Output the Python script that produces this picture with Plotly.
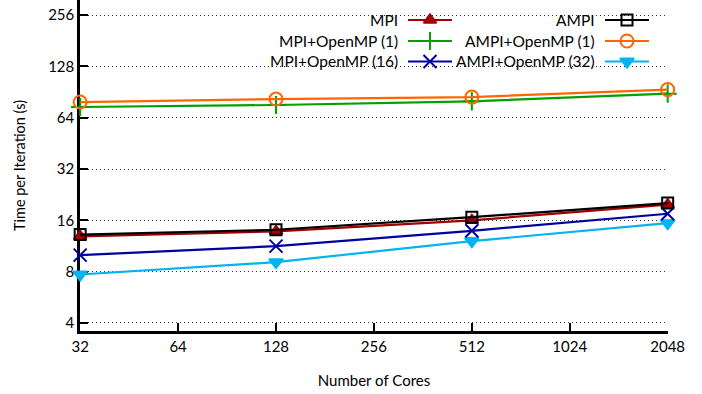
import math
import plotly.graph_objects as go

# ---- data ----
cores = [32, 128, 512, 2048]
series_names = ["MPI", "AMPI", "MPI+OpenMP (1)", "AMPI+OpenMP (1)",
                "MPI+OpenMP (16)", "AMPI+OpenMP (32)"]
mpi = [12.9, 13.8, 16.0, 19.8]
ampi = [13.2, 14.1, 16.7, 20.2]
mpi_omp1 = [74.0, 76.0, 79.9, 88.6]
ampi_omp1 = [79.1, 82.4, 84.6, 93.6]
mpi_omp16 = [10.0, 11.3, 13.9, 17.5]
ampi_omp32 = [7.7, 9.1, 12.1, 15.4]
x_ticks = [32, 64, 128, 256, 512, 1024, 2048]
y_ticks = [4, 8, 16, 32, 64, 128, 256]

# ---- styles ----
styles = {
    "MPI": dict(color="#a00000", symbol="triangle-up", size=11),
    "AMPI": dict(color="#000000", symbol="square-open", size=11),
    "MPI+OpenMP (1)": dict(color="#00a000", symbol="cross-thin", size=13),
    "AMPI+OpenMP (1)": dict(color="#ff6600", symbol="circle-open", size=13),
    "MPI+OpenMP (16)": dict(color="#0000a0", symbol="x-thin", size=13),
    "AMPI+OpenMP (32)": dict(color="#00b4f0", symbol="triangle-down", size=12),
}
values = {
    "MPI": mpi, "AMPI": ampi, "MPI+OpenMP (1)": mpi_omp1,
    "AMPI+OpenMP (1)": ampi_omp1, "MPI+OpenMP (16)": mpi_omp16,
    "AMPI+OpenMP (32)": ampi_omp32,
}

FONT = "Lato"
W, H = 702, 394
L, R, T, B = 80, 668, 0, 331

fig = go.Figure()

draw_order = ["AMPI+OpenMP (32)", "MPI+OpenMP (16)", "MPI+OpenMP (1)",
              "AMPI+OpenMP (1)", "MPI", "AMPI"]

def marker_for(st):
    return dict(symbol=st["symbol"], size=st["size"], color=st["color"],
                line=dict(color=st["color"], width=2))

for name in draw_order:
    st = styles[name]
    fig.add_trace(go.Scatter(
        x=cores, y=values[name], mode="lines+markers", name=name,
        line=dict(color=st["color"], width=2.2),
        marker=marker_for(st), cliponaxis=False, showlegend=False,
    ))

# ---- custom legend (samples on the right of the text) ----
row_y = [20, 41, 61.5]
col_text_right = [400, 597]
col_line = [(408, 452), (605, 649)]
legend_layout = [
    ["MPI", "AMPI"],
    ["MPI+OpenMP (1)", "AMPI+OpenMP (1)"],
    ["MPI+OpenMP (16)", "AMPI+OpenMP (32)"],
]

def px_x(p):
    return (p - L) / (R - L)

def px_y(p):
    return 1 - (p - T) / (B - T)

fig.add_shape(type="rect", xref="paper", yref="paper",
              x0=px_x(264), x1=px_x(656), y0=px_y(72), y1=px_y(6),
              fillcolor="white", line=dict(width=0), layer="between")

for r, row in enumerate(legend_layout):
    for c, name in enumerate(row):
        st = styles[name]
        fig.add_annotation(text=name, xref="paper", yref="paper",
                           x=px_x(col_text_right[c]), y=px_y(row_y[r]),
                           xanchor="right", yanchor="middle", showarrow=False,
                           font=dict(family=FONT, size=15.5, color="black"))
        x0, x1 = col_line[c]
        fig.add_trace(go.Scatter(
            x=[px_x(x0), px_x(x1)],
            y=[px_y(row_y[r])] * 2, xaxis="x2", yaxis="y2",
            mode="lines", line=dict(color=st["color"], width=2.2),
            showlegend=False, hoverinfo="skip", cliponaxis=False))
        fig.add_trace(go.Scatter(
            x=[px_x((x0 + x1) / 2)], y=[px_y(row_y[r])], xaxis="x2", yaxis="y2",
            mode="markers", marker=marker_for(st),
            showlegend=False, hoverinfo="skip", cliponaxis=False))

fig.update_layout(
    width=W, height=H,
    margin=dict(l=L, r=W - R, t=T, b=H - B),
    paper_bgcolor="white", plot_bgcolor="white",
    font=dict(family=FONT, size=15, color="black"),
    showlegend=False,
    xaxis=dict(
        type="log", range=[math.log10(32) - 0.0005, math.log10(2048) + 0.001],
        tickvals=x_ticks, ticktext=[str(v) for v in x_ticks],
        ticks="inside", ticklen=8, tickwidth=2, tickcolor="black",
        showline=True, linecolor="black", linewidth=2.5, showgrid=False,
        zeroline=False, tickfont=dict(size=15), layer="below traces",
        title=dict(text="Number of Cores", standoff=22, font=dict(size=15)),
    ),
    yaxis=dict(
        type="log", range=[math.log10(3.59), math.log10(314)],
        tickvals=y_ticks, ticktext=[str(v) for v in y_ticks],
        ticks="inside", ticklen=8, tickwidth=2, tickcolor="black",
        showline=True, linecolor="black", linewidth=2.5,
        showgrid=True, gridcolor="#333333", gridwidth=1, griddash="1px,3px",
        zeroline=False, tickfont=dict(size=15), layer="below traces",
        title=dict(text="Time per Iteration (s)", standoff=20, font=dict(size=14.5)),
    ),
    xaxis2=dict(overlaying="x", range=[0, 1], visible=False, fixedrange=True),
    yaxis2=dict(overlaying="y", range=[0, 1], visible=False, fixedrange=True),
)

fig.write_html("out.html")
